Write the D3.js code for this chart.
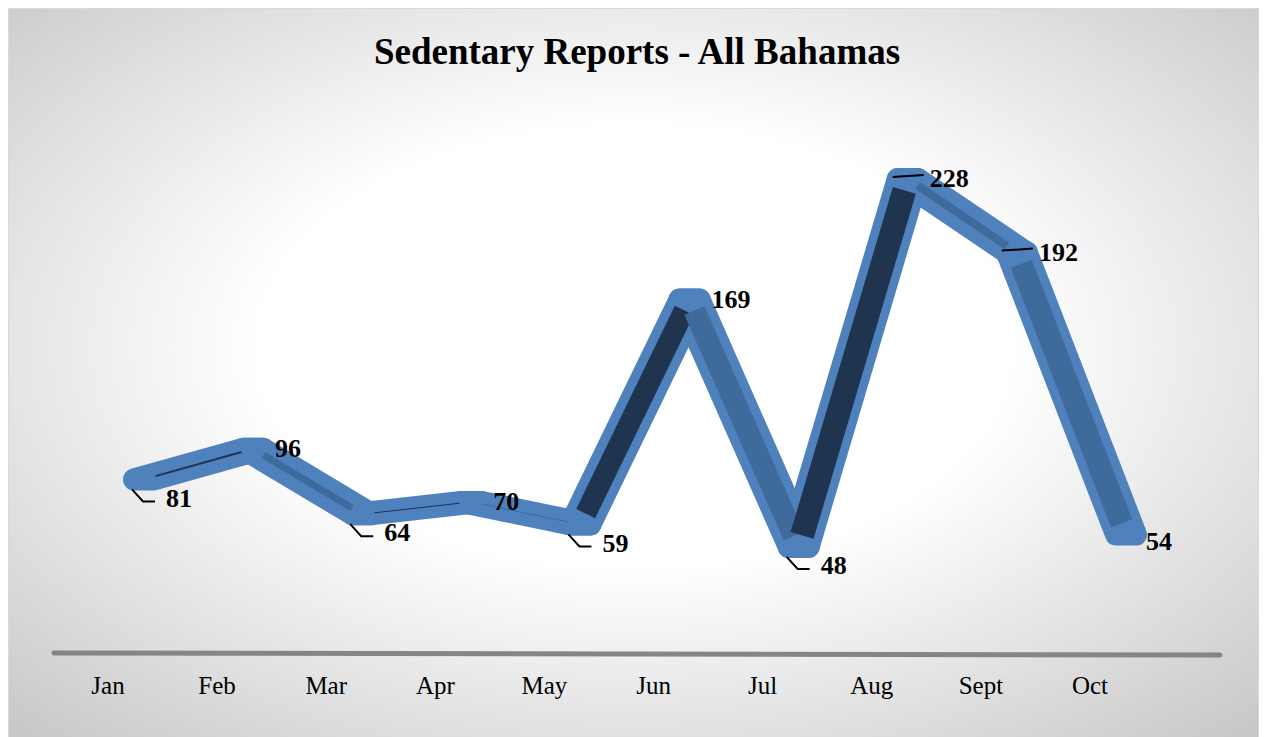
<!DOCTYPE html>
<html lang="en">
  <head>
    <meta charset="UTF-8" />
    <script src="https://d3js.org/d3.v7.min.js"></script>
    <style>
      body { margin: 0; background: #fff; }
      svg { display: block; font-family: "Liberation Serif", "Times New Roman", serif; }
    </style>
  </head>
  <body>
    <div id="chart"></div>
    <script>
      // data
      var months = ["Jan", "Feb", "Mar", "Apr", "May", "Jun", "Jul", "Aug", "Sept", "Oct"];
      var reports = [81, 96, 64, 70, 59, 169, 48, 228, 192, 54];
      var title = "Sedentary Reports - All Bahamas";

      var width = 1265, height = 737;
      var svg = d3.select("#chart").append("svg")
        .attr("width", width).attr("height", height);

      // background gradient
      var defs = svg.append("defs");
      var grad = defs.append("radialGradient").attr("id", "bg")
        .attr("cx", "50%").attr("cy", "46%").attr("r", "75%")
        .attr("fx", "50%").attr("fy", "46%");
      grad.append("stop").attr("offset", "0%").attr("stop-color", "#ffffff");
      grad.append("stop").attr("offset", "40%").attr("stop-color", "#ffffff");
      grad.append("stop").attr("offset", "100%").attr("stop-color", "#c4c4c4");

      svg.append("rect")
        .attr("x", 8.5).attr("y", 8.5)
        .attr("width", 1250).attr("height", 735)
        .attr("fill", "url(#bg)")
        .attr("stroke", "#d9d9d9");

      svg.append("text")
        .attr("x", 637).attr("y", 64)
        .attr("text-anchor", "middle")
        .style("font-size", "37px").style("font-weight", "bold")
        .text(title);

      // scales: labels sit on the front edge, the ribbon sits back in depth
      var xLabel = d3.scalePoint().domain(months).range([108, 1090]);
      var frontX = 26, depth = 20;
      var y = d3.scaleLinear().domain([0, 250]).range([645, 134]);

      // floor axis line
      svg.append("line")
        .attr("x1", 54).attr("x2", 1220)
        .attr("y1", 653).attr("y2", 655)
        .attr("stroke", "#858585").attr("stroke-width", 5)
        .attr("stroke-linecap", "round");

      svg.append("g").selectAll("text")
        .data(months).enter().append("text")
        .attr("x", function (d) { return xLabel(d); })
        .attr("y", 694)
        .attr("text-anchor", "middle")
        .style("font-size", "25px")
        .text(function (d) { return d; });

      var pts = months.map(function (m, i) {
        return { m: m, v: reports[i], x: xLabel(m) + frontX, y: y(reports[i]) };
      });
      var segs = d3.pairs(pts);

      // ribbon body: each segment swept from front edge to back edge
      svg.append("g").selectAll("path")
        .data(segs).enter().append("path")
        .attr("d", function (s) {
          var a = s[0], b = s[1];
          return "M" + a.x + "," + a.y + "L" + b.x + "," + b.y +
            "L" + (b.x + depth) + "," + b.y + "L" + (a.x + depth) + "," + a.y + "Z";
        })
        .attr("fill", "#4f81bd")
        .attr("stroke", "#4f81bd")
        .attr("stroke-width", 22)
        .attr("stroke-linejoin", "round");

      // shaded side faces of each segment
      svg.append("g").selectAll("line")
        .data(segs).enter().append("line")
        .each(function (s) {
          var a = s[0], b = s[1];
          var dx = b.x - a.x, dy = b.y - a.y;
          var len = Math.sqrt(dx * dx + dy * dy);
          var ux = dx / len, uy = dy / len;
          var sin = Math.abs(dy) / len;
          var trim = 12;
          var w = 26 * sin * sin;
          d3.select(this)
            .attr("x1", a.x + depth / 2 + ux * trim).attr("y1", a.y + uy * trim)
            .attr("x2", b.x + depth / 2 - ux * trim).attr("y2", b.y - uy * trim)
            .attr("stroke", dy < 0 ? "#1f344f" : "#3f6a9c")
            .attr("stroke-width", Math.max(w, 1));
        });

      // data labels with leader lines
      function isLow(i) {
        var prev = i > 0 ? reports[i - 1] : Infinity;
        var next = i < reports.length - 1 ? reports[i + 1] : Infinity;
        return reports[i] < prev && reports[i] < next;
      }

      var lab = svg.append("g");
      pts.forEach(function (p, i) {
        var last = i === pts.length - 1;
        var low = isLow(i) && !last;
        var peak = i > 0 && !last && reports[i] > reports[i - 1] && reports[i] > reports[i + 1];
        if (low) {
          lab.append("path")
            .attr("d", "M" + (p.x - 2) + "," + (p.y + 10) + "L" + (p.x + 9) + "," + (p.y + 22) + "L" + (p.x + 21) + "," + (p.y + 22))
            .attr("fill", "none").attr("stroke", "#000").attr("stroke-width", 2);
        } else if (!last && !(peak && reports[i] < 200)) {
          lab.append("line")
            .attr("x1", p.x - 5).attr("y1", p.y - 2)
            .attr("x2", p.x + 26).attr("y2", p.y - 4)
            .attr("stroke", "#000").attr("stroke-width", 2);
        }
        lab.append("text")
          .attr("x", p.x + (last ? 30 : 32))
          .attr("y", p.y + (low ? 18 : (last ? 6 : -1)))
          .attr("dy", "0.35em")
          .style("font-size", "26px").style("font-weight", "bold")
          .text(p.v);
      });
    </script>
  </body>
</html>
